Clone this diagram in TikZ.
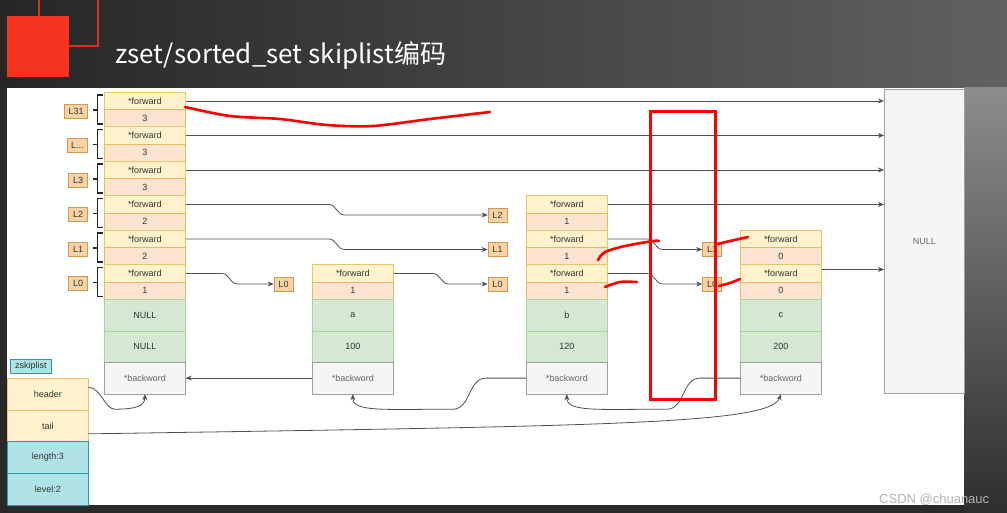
\documentclass[tikz,border=0pt]{standalone}
\usepackage{fontspec}
\setmainfont{Liberation Sans}
\newfontfamily\cjk{Noto Sans CJK SC}
\usetikzlibrary{arrows.meta,calc}
\newcommand\Ldts{L...}
\definecolor{fwdfill}{HTML}{FFF2CC}
\definecolor{fwddraw}{HTML}{E5C46A}
\definecolor{valfill}{HTML}{FCE4D0}
\definecolor{valdraw}{HTML}{E8B85A}
\definecolor{grnfill}{HTML}{D5E8D4}
\definecolor{grndraw}{HTML}{AAD39A}
\definecolor{gryfill}{HTML}{F5F5F5}
\definecolor{grydraw}{HTML}{A0A0A0}
\definecolor{labfill}{HTML}{FAD3A5}
\definecolor{labdraw}{HTML}{CF9A4E}
\definecolor{cyanfill}{HTML}{B0E3E6}
\definecolor{cyandraw}{HTML}{2A9AA0}
\definecolor{txt}{HTML}{333333}
\definecolor{lnk}{HTML}{505050}
\definecolor{logored}{HTML}{F4341E}
\begin{document}
\begin{tikzpicture}[x=1pt,y=-1pt,
  cellbase/.style={draw, line width=0.7pt, inner sep=0pt, minimum width=81pt, anchor=north west, font=\fontsize{9}{10}\selectfont, text=txt},
  fwdcell/.style={cellbase, fill=fwdfill, draw=fwddraw, minimum height=17.25pt},
  valcell/.style={cellbase, fill=valfill, draw=valdraw, minimum height=17.25pt},
  grncell/.style={cellbase, fill=grnfill, draw=grndraw, minimum height=31.5pt},
  grycell/.style={cellbase, fill=gryfill, draw=grydraw, minimum height=31.5pt, text=black!60},
  lab/.style={draw=labdraw, fill=labfill, line width=0.7pt, inner xsep=4pt, inner ysep=0pt, minimum width=19pt, minimum height=14pt, font=\fontsize{9}{10}\selectfont, text=txt},
  bracketline/.style={draw=black!85, line width=1.4pt},
  link/.style={draw=lnk, line width=0.8pt, -{Stealth[length=6pt,width=5pt]}},
  redink/.style={draw=red, line width=2.6pt, line cap=round, line join=round},
  scurve/.style={to path={let \p1=(\tikztostart), \p2=(\tikztotarget) in
     -- ({(\x1+\x2)/2-8pt},\y1) .. controls ({(\x1+\x2)/2},\y1) and ({(\x1+\x2)/2},\y2) .. ({(\x1+\x2)/2+8pt},\y2) -- (\tikztotarget)}}
]
\useasboundingbox (0,0) rectangle (1007,513);
% background
\fill[black!84] (0,0) rectangle (1007,513);
\shade[left color=black!85, right color=black!62] (0,0) rectangle (1007,88);
\shade[top color=black!45, bottom color=black!82] (964,88) rectangle (1007,513);
% logo
\draw[logored!90!black, line width=1.4pt] (39,-2) rectangle (98,46);
\fill[logored] (7,16) rectangle (69,77);
\node[anchor=base west, text=white, font=\cjk\fontsize{26}{30}\selectfont, inner sep=0pt] (title) at (115,64) {zset/sorted\_set skiplist编码};
% panel
\fill[white] (7,88) rectangle (964,505);

% header column
\foreach \v/\lab [count=\k from 0] in {3/L31,3/\Ldts,3/L3,2/L2,2/L1,1/L0} {
  \pgfmathsetmacro\t{92+34.5*\k}
  \node[fwdcell] (hf\k) at (104,\t) {*forward};
  \node[valcell] (hv\k) at (104,{\t+17.25}) {\v};
  \draw[bracketline] (102.5,{\t+3}) -- (97.5,{\t+3}) -- (97.5,{\t+32}) -- (102.5,{\t+32});
  \draw[bracketline] (97.5,{\t+18}) -- (93,{\t+18});
  \node[lab, anchor=east] (hl\k) at (88,{\t+19}) {\lab};
}
\node[grncell] (hn1) at (104,299) {NULL};
\node[grncell] (hn2) at (104,330.5) {NULL};
\node[grycell] (hbk) at (104,362) {*backword};

% node a
\node[fwdcell] (af) at (312,264.5) {*forward};
\node[valcell] (av) at (312,281.75) {1};
\node[grncell] (aobj) at (312,299) {a};
\node[grncell] (ascore) at (312,330.5) {100};
\node[grycell] (abk) at (312,362) {*backword};
\node[lab] (al0) at (283.5,284) {L0};

% node b
\node[fwdcell] (bf2) at (526,195.5) {*forward};
\node[valcell] (bv2) at (526,212.75) {1};
\node[fwdcell] (bf1) at (526,230) {*forward};
\node[valcell] (bv1) at (526,247.25) {1};
\node[fwdcell] (bf0) at (526,264.5) {*forward};
\node[valcell] (bv0) at (526,281.75) {1};
\node[grncell] (bobj) at (526,299) {b};
\node[grncell] (bscore) at (526,330.5) {120};
\node[grycell] (bbk) at (526,362) {*backword};
\node[lab] (bl2) at (497.5,215) {L2};
\node[lab] (bl1) at (497.5,249.5) {L1};
\node[lab] (bl0) at (497.5,284) {L0};

% node c
\node[fwdcell] (cf1) at (740,230) {*forward};
\node[valcell] (cv1) at (740,247.25) {0};
\node[fwdcell] (cf0) at (740,264.5) {*forward};
\node[valcell] (cv0) at (740,281.75) {0};
\node[grncell] (cobj) at (740,299) {c};
\node[grncell] (cscore) at (740,330.5) {200};
\node[grycell] (cbk) at (740,362) {*backword};
\node[lab] (cl1) at (712,249.5) {L1};
\node[lab] (cl0) at (712,284) {L0};

% NULL tail box
\node[cellbase, fill=gryfill, draw=grydraw, minimum width=80pt, minimum height=304pt, text=black!60] (nullb) at (884,89) {NULL};

% zskiplist struct
\node[draw=cyandraw, fill=cyanfill, line width=0.7pt, inner sep=0pt, minimum width=41pt, minimum height=14pt, anchor=north west, font=\fontsize{9}{10}\selectfont, text=txt] (zl) at (10,359) {zskiplist};
\node[cellbase, fill=fwdfill, draw=fwddraw, minimum height=32pt] (hdr) at (7,378) {header};
\node[cellbase, fill=fwdfill, draw=fwddraw, minimum height=31pt] (tail) at (7,410) {tail};
\node[cellbase, fill=cyanfill, draw=cyandraw, minimum height=32pt] (len) at (7,441) {length:3};
\node[cellbase, fill=cyanfill, draw=cyandraw, minimum height=32pt] (lev) at (7,473) {level:2};

% forward links
\draw[link] (hf0.east) -- (nullb.west |- hf0.east);
\draw[link] (hf1.east) -- (nullb.west |- hf1.east);
\draw[link] (hf2.east) -- (nullb.west |- hf2.east);
\draw[link] (hf3.east) to[scurve] (bl2.west);
\draw[link] (hf4.east) to[scurve] (bl1.west);
\draw[link] (hf5.east) to[scurve] (al0.west);
\draw[link] (af.east) to[scurve] (bl0.west);
\draw[link] (bf2.east) -- (nullb.west |- bf2.east);
\draw[link] (bf1.east) to[scurve] (cl1.west);
\draw[link] (bf0.east) to[scurve] (cl0.west);
\coordinate (cout) at ($(cf0.east)+(0,-4)$);
\draw[link] (cout) -- (nullb.west |- cout);

% backward links
\draw[link] (abk.west) -- (hbk.east);
\draw[link] (bbk.west) -- ++(-40,0) .. controls +(-18,0) and +(18,0) .. ($(abk.south)+(100,15)$) .. controls +(-70,0) and +(0,18) .. (abk.south);
\draw[link] (cbk.west) -- ++(-40,0) .. controls +(-18,0) and +(18,0) .. ($(bbk.south)+(100,15)$) .. controls +(-70,0) and +(0,18) .. (bbk.south);
\draw[link] ($(hdr.east)+(0,-7)$) .. controls +(12,0) and +(-10,0) .. ($(hbk.south)+(-30,15)$) .. controls +(20,0) and +(0,12) .. (hbk.south);
\draw[link] ($(tail.east)+(0,8)$) .. controls +(520,-8) and +(-10,30) .. (cbk.south);

% red annotations
\draw[redink] plot[smooth] coordinates {(185,107) (230,116) (280,119) (327,125) (373,126) (430,119) (490,112)};
\draw[redink] plot[smooth] coordinates {(598,260) (605,252) (625,246) (653,241) (659,241)};
\draw[redink] plot[smooth] coordinates {(605,287) (620,282) (637,282)};
\draw[redink] plot[smooth] coordinates {(718,244) (730,241) (748,237)};
\draw[redink] plot[smooth] coordinates {(719,286) (730,283) (740,279)};
\draw[red, line width=3pt] (650,112) rectangle (715,399);

% watermark
\node[anchor=base west, inner sep=0pt, text=black!30, font=\fontsize{13}{15}\selectfont] (wm) at (879,503) {CSDN @chuanauc};
\end{tikzpicture}
\end{document}
